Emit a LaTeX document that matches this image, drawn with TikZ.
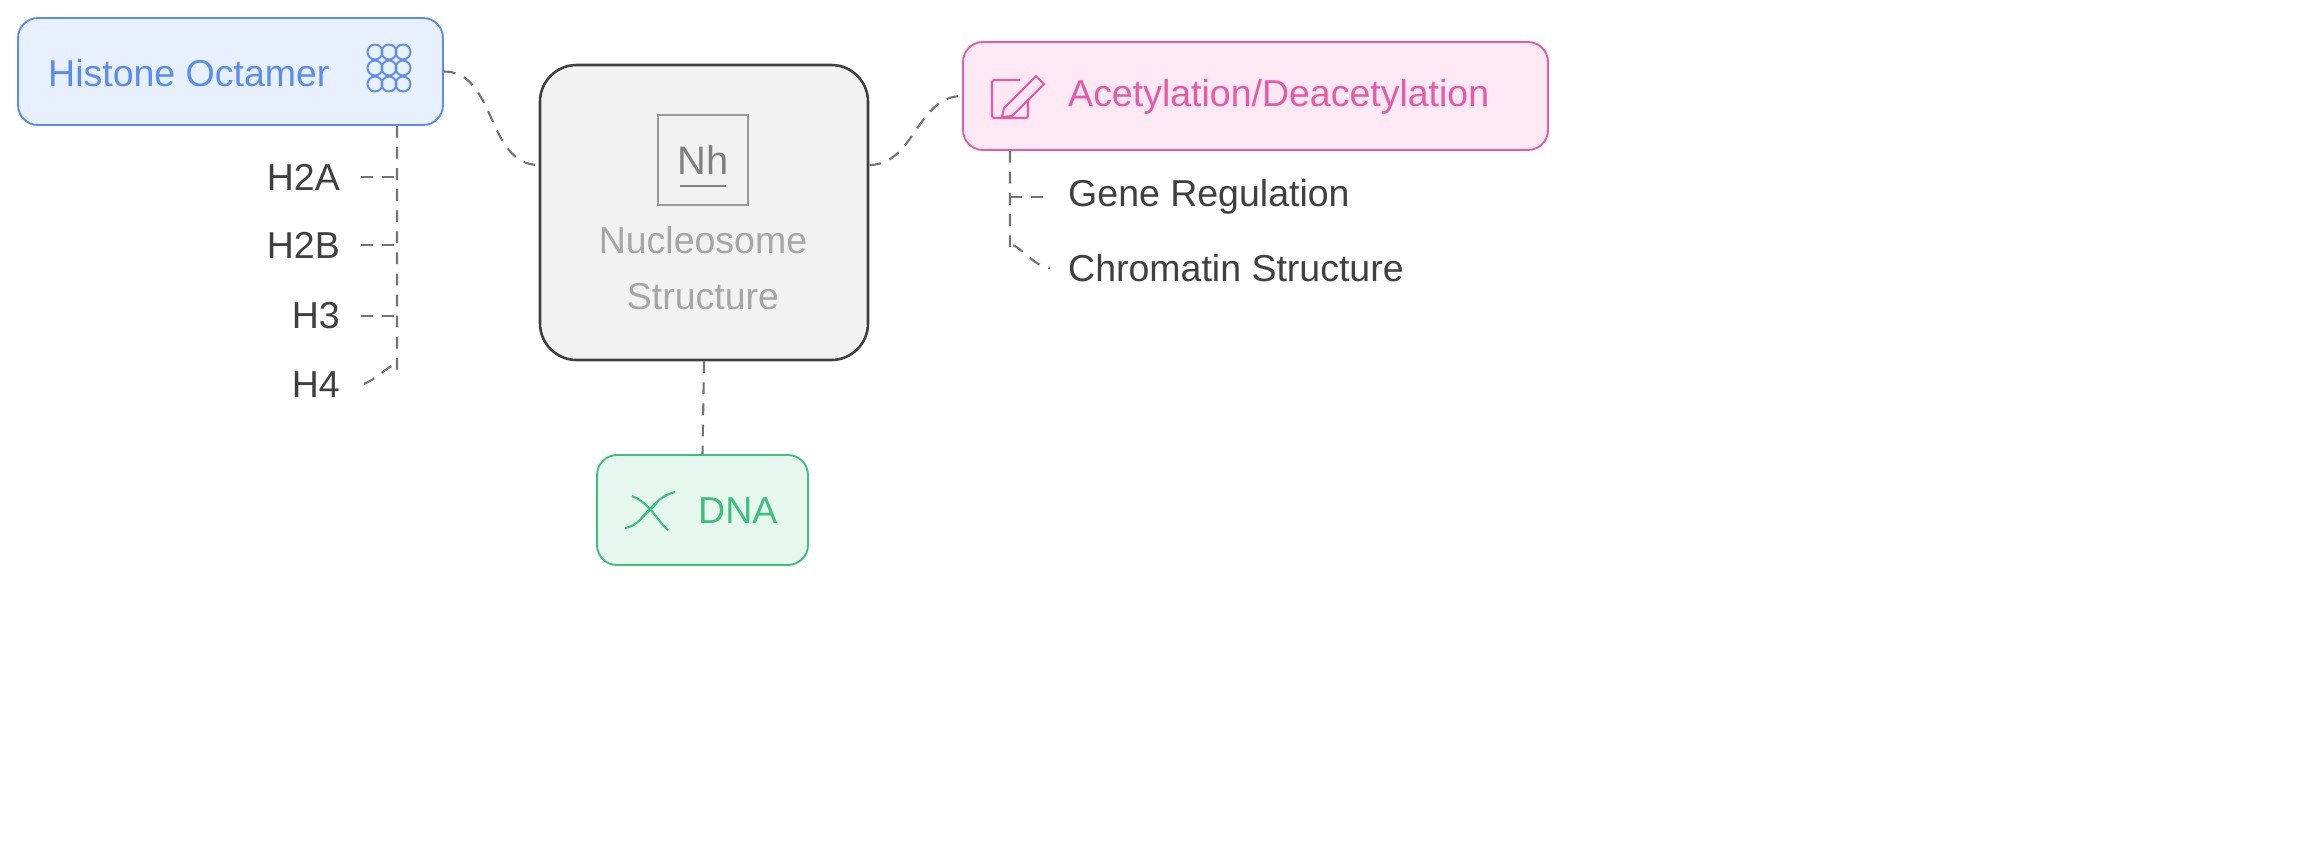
\documentclass[tikz,border=0pt]{standalone}
\usepackage{fontspec}
\setmainfont{Liberation Sans}
\begin{document}
\begin{tikzpicture}[x=0.03cm,y=-0.03cm,
  box/.style={draw,rounded corners=0.6cm,line width=1.6pt,inner sep=0pt},
  lbl/.style={font=\fontsize{32}{38}\selectfont,text=black!75,inner sep=0pt},
  conn/.style={draw=black!55,dashed,dash pattern=on 10pt off 8pt,line width=1.8pt}]
\useasboundingbox[fill=white] (0,0) rectangle (2313,860);
\definecolor{bl}{HTML}{5B8DEF}\definecolor{blf}{HTML}{E8F0FE}
\definecolor{pk}{HTML}{E75AA8}\definecolor{pkf}{HTML}{FDE8F3}
\definecolor{gr}{HTML}{3FBF7F}\definecolor{grf}{HTML}{E6F7EE}
% boxes
\node[box,draw=bl,fill=blf,minimum width=425*0.03cm,minimum height=107*0.03cm] (hist) at (230.5,71.5) {};
\node[box,draw=black!75,fill=black!5,rounded corners=1.1cm,line width=2.2pt,minimum width=328*0.03cm,minimum height=295*0.03cm] (nuc) at (704,212.5) {};
\node[box,draw=pk,fill=pkf,minimum width=585*0.03cm,minimum height=108*0.03cm] (acet) at (1255.5,96) {};
\node[box,draw=gr,fill=grf,minimum width=211*0.03cm,minimum height=110*0.03cm] (dna) at (702.5,510) {};
% texts
\node[lbl,text=bl,anchor=west] (histt) at (48,73) {Histone Octamer};
\node[lbl,text=pk,anchor=west] (acett) at (1068,97) {Acetylation/Deacetylation};
\node[lbl,text=gr,anchor=west] (dnat) at (698,511) {DNA};
\node[lbl,text=black!35,align=center,font=\fontsize{32}{48}\selectfont] (nuct) at (703,268) {Nucleosome\\Structure};
% histone icon
\foreach \i in {0,1,2} \foreach \j in {0,1,2}
  \draw[bl,line width=1.6pt] (375+\i*14,52+\j*16) circle (7.5);
% Nh icon
\node[draw=black!40,line width=1.8pt,minimum width=90*0.03cm,minimum height=90*0.03cm,text=black!50,font=\fontsize{34}{36}\selectfont] (nh) at (703,160) {Nh};
\draw[black!50,line width=1.8pt] (680,186) -- (726,186);
% pencil icon
\draw[pk,line width=1.8pt,rounded corners=2pt] (1020,80) -- (992,80) -- (992,118) -- (1028,118) -- (1028,100);
\draw[pk,line width=1.8pt] (1004,108) -- (1036,76) -- (1044,84) -- (1012,116) -- (1002,117) -- (1004,108);
% DNA icon
\draw[gr,line width=1.8pt] (625,528) .. controls (645,525) and (650,498) .. (675,492);
\draw[gr,line width=1.8pt] (632,496) .. controls (650,503) and (658,522) .. (668,530);
\draw[gr,line width=1.8pt] (648,512) -- (657,503) (641,518)--(650,509);
% labels
\node[lbl,anchor=east] (h2a) at (340,177) {H2A};
\node[lbl,anchor=east] (h2b) at (340,245) {H2B};
\node[lbl,anchor=east] (h3) at (340,316) {H3};
\node[lbl,anchor=east] (h4) at (340,385) {H4};
\node[lbl,anchor=west] (gene) at (1068,197) {Gene Regulation};
\node[lbl,anchor=west] (chrom) at (1068,268) {Chromatin Structure};
% connectors
\draw[conn] (hist.south -| 397,0) -- (397,370) to[out=90,in=0] (358,385);
\foreach \n in {h2a,h2b,h3} \draw[conn] ([xshift=18pt]\n.east) -- (397,0 |- \n.east);
\draw[conn] (acet.south -| 1010,0) -- (1010,250) to[out=90,in=180] (1050,268);
\draw[conn] (1010,197) -- (1052,197);
\draw[conn] (hist.east) to[out=0,in=180] (nuc.west |- 0,165);
\draw[conn] (nuc.east |- 0,165) to[out=0,in=180] (acet.west);
\draw[conn] (nuc.south) -- (dna.north);
\end{tikzpicture}
\end{document}
